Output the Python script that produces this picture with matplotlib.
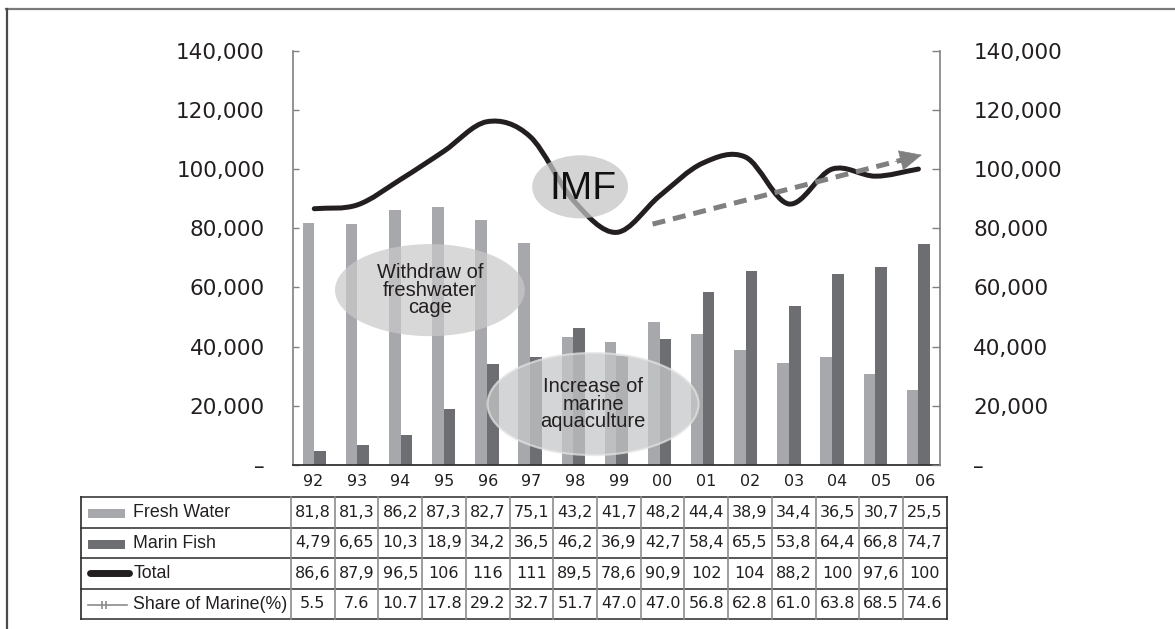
import numpy as np
import matplotlib
matplotlib.use('Agg')
import matplotlib.pyplot as plt
from matplotlib.patches import Ellipse, Rectangle, PathPatch
from matplotlib.path import Path
from matplotlib.lines import Line2D
from matplotlib.ticker import FixedLocator, FuncFormatter

# production by year, thousand tons
years = ['92', '93', '94', '95', '96', '97', '98', '99', '00', '01', '02', '03', '04', '05', '06']
fresh_water = [81.8, 81.3, 86.2, 87.3, 82.7, 75.1, 43.2, 41.7, 48.2, 44.4, 38.9, 34.4, 36.5, 30.7, 25.5]
marin_fish = [4.79, 6.65, 10.3, 18.9, 34.2, 36.5, 46.2, 36.9, 42.7, 58.4, 65.5, 53.8, 64.4, 66.8, 74.7]
total = [86.6, 87.9, 96.5, 106, 116, 111, 89.5, 78.6, 90.9, 102, 104, 88.2, 100, 97.6, 100]
share_marine = [5.5, 7.6, 10.7, 17.8, 29.2, 32.7, 51.7, 47.0, 47.0, 56.8, 62.8, 61.0, 63.8, 68.5, 74.6]
row_names = ['Fresh Water', 'Marin Fish', 'Total', 'Share of Marine(%)']
y_ticks = [0, 20000, 40000, 60000, 80000, 100000, 120000, 140000]

C_FRESH = '#a7a8ab'
C_MARINE = '#6d6e71'
C_TOTAL = '#231f20'
C_TEXT = '#231f20'
ARIAL = ['Liberation Sans', 'DejaVu Sans']

W, H = 1175, 629
fig = plt.figure(figsize=(W / 100, H / 100), dpi=100)


def px_box(x0, y0, x1, y1):
    # figure rectangle from pixel edges measured from the top-left corner
    return [x0 / W, 1 - y1 / H, (x1 - x0) / W, (y1 - y0) / H]


# outer frame (top and left edges only)
fig.add_artist(Line2D([6 / W, 1], [1 - 9 / H, 1 - 9 / H], color='#7a7a7a', lw=1.6))
fig.add_artist(Line2D([6.5 / W, 6.5 / W], [0, 1 - 9 / H], color='#4a4a4a', lw=1.6))

# ---- main chart ----
ax = fig.add_axes(px_box(292.7, 50.7, 940, 465))
x = np.arange(len(years))
thou = 1000
ax.bar(x - 0.135, np.array(fresh_water) * thou, 0.27, color=C_FRESH, zorder=2)
ax.bar(x + 0.135, np.array(marin_fish) * thou, 0.27, color=C_MARINE, zorder=2)

# smoothed total line (cardinal spline as bezier segments)
pts = np.column_stack([x, np.array(total) * thou]).astype(float)
tang = np.zeros_like(pts)
tang[1:-1] = (pts[2:] - pts[:-2]) / 2
tang[0] = pts[1] - pts[0]
tang[-1] = pts[-1] - pts[-2]
verts = [pts[0]]
codes = [Path.MOVETO]
for i in range(len(pts) - 1):
    verts += [pts[i] + tang[i] / 3, pts[i + 1] - tang[i + 1] / 3, pts[i + 1]]
    codes += [Path.CURVE4] * 3
ax.add_patch(PathPatch(Path(verts, codes), fill=False, lw=3.6, ec=C_TOTAL,
                       capstyle='round', joinstyle='round', zorder=4))

ax.set_xlim(-0.5, 14.5)
ax.set_ylim(0, 140000)
ax.set_xticks([])

fmt = FuncFormatter(lambda v, p: '–' if v == 0 else f'{v:,.0f}')
ax.yaxis.set_major_locator(FixedLocator(y_ticks))
ax.yaxis.set_major_formatter(fmt)
ax.tick_params(axis='y', direction='in', length=4, width=1, color='#808080',
               labelsize=15.5, labelcolor=C_TEXT, pad=20)
for s in ['top', 'right']:
    ax.spines[s].set_visible(False)
ax.spines['left'].set_color('#808080')
ax.spines['left'].set_linewidth(1.2)
ax.spines['bottom'].set_color('#333333')
ax.spines['bottom'].set_linewidth(1.3)

ax2 = ax.twinx()
ax2.set_ylim(ax.get_ylim())
ax2.yaxis.set_major_locator(FixedLocator(y_ticks))
ax2.yaxis.set_major_formatter(fmt)
ax2.tick_params(axis='y', direction='in', length=6, width=1, color='#808080',
                labelsize=15.5, labelcolor=C_TEXT, pad=24)
for s in ['top', 'left', 'bottom']:
    ax2.spines[s].set_visible(False)
ax2.spines['right'].set_color('#808080')
ax2.spines['right'].set_linewidth(1.2)

# annotation bubbles
ax.add_patch(Ellipse((2.68, 59100), 4.40, 31100, fc='#c9c9cb', ec='none', alpha=0.72, zorder=3))
ax.text(2.68, 59100, 'Withdraw of\nfreshwater\ncage', ha='center', va='center',
        fontsize=14.5, family=ARIAL, color=C_TEXT, linespacing=0.9, zorder=6)

ax.add_patch(Ellipse((6.46, 20600), 4.89, 34500, fc='#c6c7c9', ec='#e4e4e4', lw=1.5,
                     alpha=0.75, zorder=3))
ax.text(6.46, 20600, 'Increase of\nmarine\naquaculture', ha='center', va='center',
        fontsize=14.5, family=ARIAL, color=C_TEXT, linespacing=0.88, zorder=6)

ax.add_patch(Ellipse((6.16, 94000), 2.22, 21300, fc='#c4c4c6', ec='none', alpha=0.73, zorder=5))
ax.text(6.22, 93300, 'IMF', ha='center', va='center', fontsize=28,
        family=ARIAL, color='#111111', zorder=6)

# dashed trend arrow
a0 = np.array([7.84, 81400])
a1 = np.array([14.08, 104800])
mid = a0 + (a1 - a0) * 0.93
ax.plot([a0[0], mid[0]], [a0[1], mid[1]], color='#808080', lw=3.6,
        ls=(0, (2.6, 1.6)), solid_capstyle='butt', zorder=7)
ax.annotate('', xy=tuple(a1), xytext=tuple(a0 + (a1 - a0) * 0.9),
            arrowprops=dict(arrowstyle='-|>,head_length=15,head_width=7', mutation_scale=1,
                            color='#808080', lw=0.5, shrinkA=0, shrinkB=0), zorder=7)

# ---- data table ----
tax = fig.add_axes(px_box(80.7, 497, 946.7, 619))
tax.set_xlim(0, 866)
tax.set_ylim(4, 0)
tax.axis('off')
label_w = 210.3
col_w = (866 - label_w) / len(years)
edges = label_w + col_w * np.arange(len(years) + 1)

for r in range(5):
    tax.plot([0, 866], [r, r], color='#2a2a2a', lw=1.1, clip_on=False)
for e in edges[:-1]:
    tax.plot([e, e], [0, 4], color='#8c8c8c', lw=1.2, clip_on=False)
for e in [0, 866]:
    tax.plot([e, e], [0, 4], color='#2a2a2a', lw=1.2, clip_on=False)

centers = edges[:-1] + col_w / 2
for c, yr in zip(centers, years):
    tax.text(c, -0.5, yr, ha='center', va='center', fontsize=11.5, color=C_TEXT, clip_on=False)

rows = [
    [f'{v:.3g}'.replace('.', ',') for v in fresh_water],
    [f'{v:.3g}'.replace('.', ',') for v in marin_fish],
    [f'{v:.3g}'.replace('.', ',') for v in total],
    [f'{v:.1f}' for v in share_marine],
]
for r, vals in enumerate(rows):
    for c, s in zip(centers, vals):
        tax.text(c, r + 0.5, s, ha='center', va='center', fontsize=11.5, color=C_TEXT)
    tax.text(52.5, r + 0.52, row_names[r], ha='left', va='center', fontsize=12.8,
             family=ARIAL, color=C_TEXT)

# legend keys inside the label column
tax.add_patch(Rectangle((7.3, 0.4), 37, 0.3, fc=C_FRESH, ec='none'))
tax.add_patch(Rectangle((7.3, 1.4), 37, 0.3, fc=C_MARINE, ec='none'))
tax.plot([9, 48], [2.5, 2.5], color=C_TOTAL, lw=5, solid_capstyle='round')
tax.plot([7.3, 46.3], [3.55, 3.55], color='#8c8c8c', lw=1.2)
tax.plot([21.3, 25.3], [3.55, 3.55], ls='none', marker='|', ms=6, mew=1.2, color='#8c8c8c')

fig.savefig('out.png', dpi=100)
